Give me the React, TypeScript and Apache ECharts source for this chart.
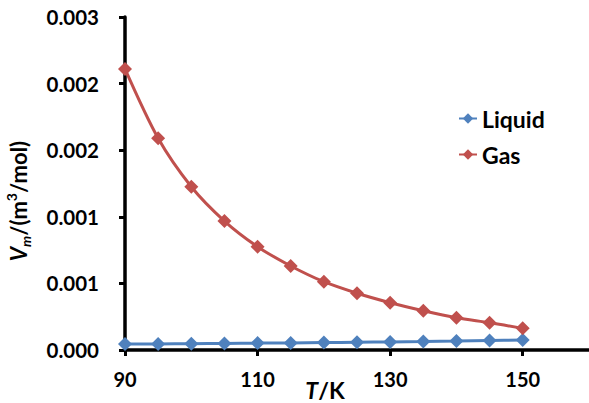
import React, { useEffect, useRef } from "react";
import * as echarts from "echarts";

const temperatures = [90, 95, 100, 105, 110, 115, 120, 125, 130, 135, 140, 145, 150];
const liquidVm = [0.000054, 0.000055, 0.000057, 0.000059, 0.000062, 0.000064, 0.000067, 0.00007, 0.000073, 0.000076, 0.00008, 0.000085, 0.00009];
const gasVm = [0.002532, 0.001907, 0.001471, 0.001162, 0.000931, 0.000757, 0.000615, 0.000511, 0.000426, 0.000354, 0.000291, 0.000246, 0.000195];
const xTickValues = [90, 110, 130, 150];
const seriesNames = ["Liquid", "Gas"];

const FONT = "Lato";

export default function App() {
  const ref = useRef<HTMLDivElement>(null);
  useEffect(() => {
    if (!ref.current) return;
    const chart = echarts.init(ref.current, null, { renderer: "svg" });
    const pairs = (ys: number[]) => temperatures.map((t, i) => [t, ys[i]]);
    chart.setOption({
      animation: false,
      backgroundColor: "#ffffff",
      grid: { left: 125, right: 0, top: 17, bottom: 53 },
      legend: {
        orient: "vertical",
        left: 453,
        top: 102,
        itemWidth: 18,
        itemHeight: 13,
        itemGap: 13,
        data: seriesNames,
        textStyle: { fontFamily: FONT, fontWeight: "bold", fontSize: 23, color: "#000" },
      },
      xAxis: {
        type: "value",
        min: 90,
        max: 160,
        axisLine: { show: true, lineStyle: { color: "#000", width: 3.5 } },
        axisTick: { show: true, length: 6, lineStyle: { color: "#000", width: 3 }, customValues: xTickValues },
        axisLabel: {
          customValues: xTickValues,
          margin: 19,
          fontFamily: FONT,
          fontWeight: "bold",
          fontSize: 20,
          color: "#000",
        },
        splitLine: { show: false },
      },
      yAxis: {
        type: "value",
        min: 0,
        max: 0.003,
        interval: 0.0006,
        axisLine: { show: true, lineStyle: { color: "#000", width: 3.5 } },
        axisTick: { show: true, length: 6, lineStyle: { color: "#000", width: 3 } },
        axisLabel: {
          margin: 26,
          fontFamily: FONT,
          fontWeight: "bold",
          fontSize: 20.5,
          color: "#000",
          formatter: (v: number) => v.toFixed(3),
        },
        splitLine: { show: false },
      },
      series: [
        {
          name: seriesNames[0],
          type: "line",
          data: pairs(liquidVm),
          smooth: 0.3,
          symbol: "diamond",
          symbolSize: 14,
          clip: false,
          color: "#4F81BD",
          lineStyle: { width: 3, color: "#4F81BD" },
          itemStyle: { color: "#4F81BD" },
        },
        {
          name: seriesNames[1],
          type: "line",
          data: pairs(gasVm),
          smooth: 0.3,
          symbol: "diamond",
          symbolSize: 14,
          clip: false,
          color: "#C0504D",
          lineStyle: { width: 3, color: "#C0504D" },
          itemStyle: { color: "#C0504D" },
        },
      ],
      graphic: [
        {
          type: "text",
          x: 18,
          y: 201,
          rotation: Math.PI / 2,
          style: {
            text: "{vi|V}{sub|m}{n|/(m}{sup|3}{n|/mol)}",
            align: "center",
            verticalAlign: "middle",
            fill: "#000",
            rich: {
              vi: { fontFamily: FONT, fontWeight: "bold", fontStyle: "italic", fontSize: 22, lineHeight: 28, verticalAlign: "middle" },
              n: { fontFamily: FONT, fontWeight: "bold", fontSize: 22, lineHeight: 28, verticalAlign: "middle" },
              sub: { fontFamily: FONT, fontWeight: "bold", fontStyle: "italic", fontSize: 14, lineHeight: 14, verticalAlign: "bottom" },
              sup: { fontFamily: FONT, fontWeight: "bold", fontSize: 14, lineHeight: 14, verticalAlign: "top" },
            },
          },
        },
        {
          type: "text",
          x: 325,
          y: 390,
          style: {
            text: "{i|T}{n|/K}",
            align: "center",
            verticalAlign: "middle",
            fill: "#000",
            rich: {
              i: { fontFamily: FONT, fontWeight: "bold", fontStyle: "italic", fontSize: 23 },
              n: { fontFamily: FONT, fontWeight: "bold", fontSize: 23 },
            },
          },
        },
      ],
    });
    return () => chart.dispose();
  }, []);
  return (
    <div
      ref={ref}
      style={{ position: "fixed", left: 0, top: 0, width: 589, height: 403, background: "#fff" }}
    />
  );
}
